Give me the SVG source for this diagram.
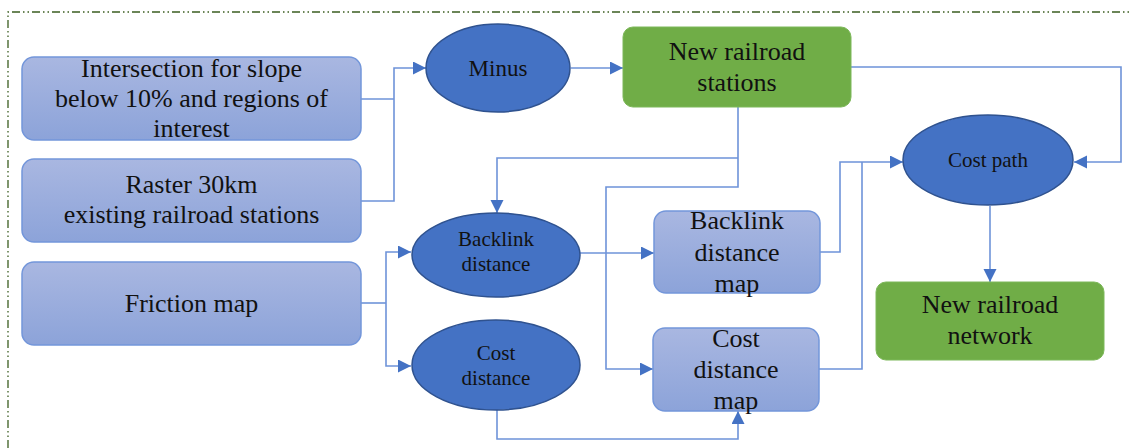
<svg xmlns="http://www.w3.org/2000/svg" width="1132" height="448" viewBox="0 0 1132 448">
<defs>
<linearGradient id="gb" x1="0" y1="0" x2="0" y2="1">
<stop offset="0" stop-color="#A9B7E1"/>
<stop offset="1" stop-color="#8CA3D9"/>
</linearGradient>
<marker id="ah" markerUnits="userSpaceOnUse" markerWidth="14" markerHeight="14" refX="13" refY="6.5" orient="auto">
<path d="M0,0 L13,6.5 L0,13 z" fill="#4472C4"/>
</marker>
<style>
.box{fill:url(#gb);stroke:#7396DA;stroke-width:1.5}
.ell{fill:#4472C4;stroke:#2F528F;stroke-width:1.5}
.grn{fill:#70AD47;stroke:#7DB85A;stroke-width:1}
text{font-family:'Liberation Serif','DejaVu Serif',serif;fill:#111;text-anchor:middle}
.t{font-size:26px}
.s{font-size:21px}
.c{fill:none;stroke:#6E93D9;stroke-width:1.6}
.a{marker-end:url(#ah)}
</style>
</defs>
<rect width="1132" height="448" fill="#fff"/>
<path d="M8,448 V12 H1132" fill="none" stroke="#3B5E20" stroke-width="1.3" stroke-dasharray="8 3 1.5 3 1.5 3"/>

<g id="connectors">
<path class="c" d="M361,99 H394"/>
<path class="c a" d="M361,201 H394 V68 H426"/>
<path class="c a" d="M571,68 H623"/>
<path class="c a" d="M851,67 H1121 V162 H1074"/>
<path class="c a" d="M738,107 V187 H606 V369 H653"/>
<path class="c a" d="M738,158 H497 V213"/>
<path class="c" d="M361,303 H386"/>
<path class="c a" d="M386,303 V252 H411"/>
<path class="c a" d="M386,303 V366 H411"/>
<path class="c a" d="M580,253 H654"/>
<path class="c a" d="M497,409 V439 H738 V411"/>
<path class="c a" d="M820,252 H840 V162 H903"/>
<path class="c" d="M819,369 H862 V162"/>
<path class="c a" d="M990,206 V282"/>
</g>

<g id="n-intersection">
<rect class="box" x="22" y="57" width="339" height="83" rx="12"/>
<text class="t" x="191.5" y="77" font-family="Liberation Serif, serif">Intersection for slope</text>
<text class="t" x="191.5" y="107" font-family="Liberation Serif, serif">below 10% and regions of</text>
<text class="t" x="191.5" y="137" font-family="Liberation Serif, serif">interest</text>
</g>
<g id="n-raster">
<rect class="box" x="22" y="159" width="339" height="83" rx="12"/>
<text class="t" x="191.5" y="193">Raster 30km</text>
<text class="t" x="191.5" y="223">existing railroad stations</text>
</g>
<g id="n-friction">
<rect class="box" x="22" y="262" width="339" height="83" rx="12"/>
<text class="t" x="191.5" y="312">Friction map</text>
</g>
<g id="n-minus">
<ellipse class="ell" cx="498" cy="68" rx="72" ry="44"/>
<text class="s" x="498" y="76" style="font-size:23px">Minus</text>
</g>
<g id="n-new-stations">
<rect class="grn" x="623" y="27" width="228" height="80" rx="10"/>
<text class="t" x="737" y="60">New railroad</text>
<text class="t" x="737" y="91">stations</text>
</g>
<g id="n-backlink-distance">
<ellipse class="ell" cx="496" cy="255" rx="84" ry="42"/>
<text class="s" x="496" y="246">Backlink</text>
<text class="s" x="496" y="271">distance</text>
</g>
<g id="n-cost-distance">
<ellipse class="ell" cx="496" cy="365" rx="84" ry="45"/>
<text class="s" x="496" y="360">Cost</text>
<text class="s" x="496" y="385">distance</text>
</g>
<g id="n-backlink-map">
<rect class="box" x="654" y="211" width="166" height="82" rx="12"/>
<text class="t" x="737" y="229">Backlink</text>
<text class="t" x="737" y="261">distance</text>
<text class="t" x="737" y="292">map</text>
</g>
<g id="n-cost-map">
<rect class="box" x="653" y="328" width="166" height="83" rx="12"/>
<text class="t" x="736" y="347">Cost</text>
<text class="t" x="736" y="378">distance</text>
<text class="t" x="736" y="409">map</text>
</g>
<g id="n-cost-path">
<ellipse class="ell" cx="988" cy="160" rx="85" ry="45"/>
<text class="s" x="988" y="167">Cost path</text>
</g>
<g id="n-network">
<rect class="grn" x="876" y="282" width="228" height="78" rx="10"/>
<text class="t" x="990" y="313">New railroad</text>
<text class="t" x="990" y="344">network</text>
</g>
</svg>
